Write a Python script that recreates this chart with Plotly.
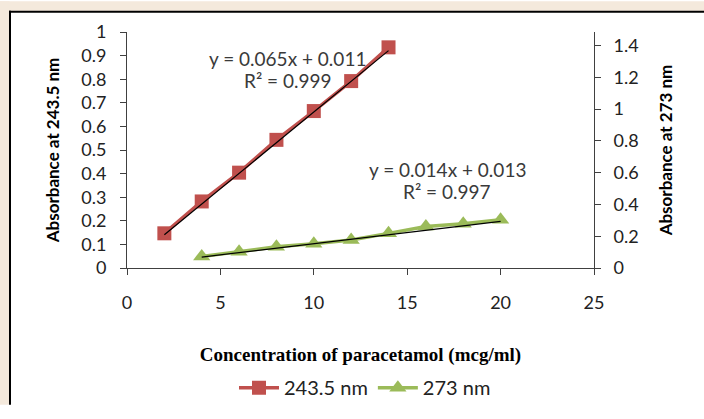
import plotly.graph_objects as go

# Data
conc_2435 = [2, 4, 6, 8, 10, 12, 14]
abs_2435 = [0.147, 0.282, 0.404, 0.543, 0.665, 0.792, 0.935]
conc_273 = [4, 6, 8, 10, 12, 14, 16, 18, 20]
abs_273 = [0.073, 0.103, 0.133, 0.152, 0.176, 0.218, 0.261, 0.279, 0.303]
fit_2435 = (0.065, 0.011)
fit_273 = (0.014, 0.013)
eq_2435 = ["y = 0.065x + 0.011", "R² = 0.999"]
eq_273 = ["y = 0.014x + 0.013", "R² = 0.997"]

RED = "#C0504D"
GREEN = "#9BBB59"
FONT = "Lato"
BG = "#f4e9dc"

fig = go.Figure()

fig.add_trace(go.Scatter(
    x=conc_2435, y=abs_2435, name="243.5 nm", mode="lines+markers",
    line=dict(color=RED, width=3.5),
    marker=dict(symbol="square", size=14, color=RED), yaxis="y"))
fig.add_trace(go.Scatter(
    x=conc_273, y=abs_273, name="273 nm", mode="lines+markers",
    line=dict(color=GREEN, width=3.5),
    marker=dict(symbol="triangle-up", size=15, color=GREEN), yaxis="y2"))

# trendlines
for xs, (m, c), ax in [(conc_2435, fit_2435, "y"), (conc_273, fit_273, "y2")]:
    x0, x1 = min(xs), max(xs)
    fig.add_trace(go.Scatter(x=[x0, x1], y=[m * x0 + c, m * x1 + c], mode="lines",
                             line=dict(color="black", width=1.2), showlegend=False,
                             hoverinfo="skip", yaxis=ax))

# plot area: x 127..594, y 32..277
L, R, T, B = 127, 594, 32, 277
W, H = R - L, B - T
def px(x): return (x - L) / W
def py(y): return (B - y) / H

shapes = [
    dict(type="rect", xref="paper", yref="paper", x0=px(0), x1=px(9.5), y0=py(0), y1=py(419),
         fillcolor=BG, line=dict(width=0), layer="below"),
    dict(type="rect", xref="paper", yref="paper", x0=px(0), x1=px(704), y0=py(0), y1=py(10.5),
         fillcolor=BG, line=dict(width=0), layer="below"),
    dict(type="line", xref="paper", yref="paper", x0=px(10), x1=px(10), y0=py(10), y1=py(419),
         line=dict(color="black", width=2)),
    dict(type="line", xref="paper", yref="paper", x0=px(9), x1=px(704), y0=py(11), y1=py(11),
         line=dict(color="black", width=2)),
]

ann = []
for text, (cx, cy) in zip(eq_2435 + eq_273, [(287, 60), (288, 82), (447, 175), (447, 198)]):
    ann.append(dict(text=text, xref="paper", yref="paper", x=px(cx), y=py(cy),
                    showarrow=False, font=dict(family=FONT, size=19, color="#3a3a3a"),
                    xanchor="center", yanchor="middle"))

axis_common = dict(showgrid=False, zeroline=False, showline=True, linecolor="#404040",
                   linewidth=1, ticks="outside", ticklen=6, tickcolor="#404040",
                   tickfont=dict(family=FONT, size=18, color="#222222"))

fig.update_layout(
    width=704, height=419,
    margin=dict(l=L, r=704 - R, t=T, b=419 - B),
    paper_bgcolor="white", plot_bgcolor="white",
    shapes=shapes, annotations=ann,
    xaxis=dict(range=[0, 25], dtick=5, **axis_common, ticklabelstandoff=12,
               title=dict(text="<b>Concentration of paracetamol (mcg/ml)</b>",
                          font=dict(family="Liberation Serif", size=19, color="black"),
                          standoff=36)),
    yaxis=dict(range=[0, 1], dtick=0.1, **axis_common, ticklabelstandoff=10,
               title=dict(text="<b>Absorbance at 243.5 nm</b>",
                          font=dict(family=FONT, size=17, color="black"), standoff=17)),
    yaxis2=dict(range=[0, 1.485], dtick=0.2, overlaying="y", side="right", **axis_common,
                ticklabelstandoff=9,
                title=dict(text="<b>Absorbance at 273 nm</b>",
                           font=dict(family=FONT, size=17, color="black"), standoff=22)),
    legend=dict(orientation="h", x=px(365), y=py(381), xanchor="center", yanchor="top",
                font=dict(family=FONT, size=20, color="#222222"), bgcolor="rgba(0,0,0,0)",
                itemwidth=40),
    showlegend=True,
)

fig.write_html("out.html", config={"displayModeBar": False},
               post_script="document.body.style.margin='0';document.body.style.overflow='hidden';"
                           "document.documentElement.style.overflow='hidden';")
